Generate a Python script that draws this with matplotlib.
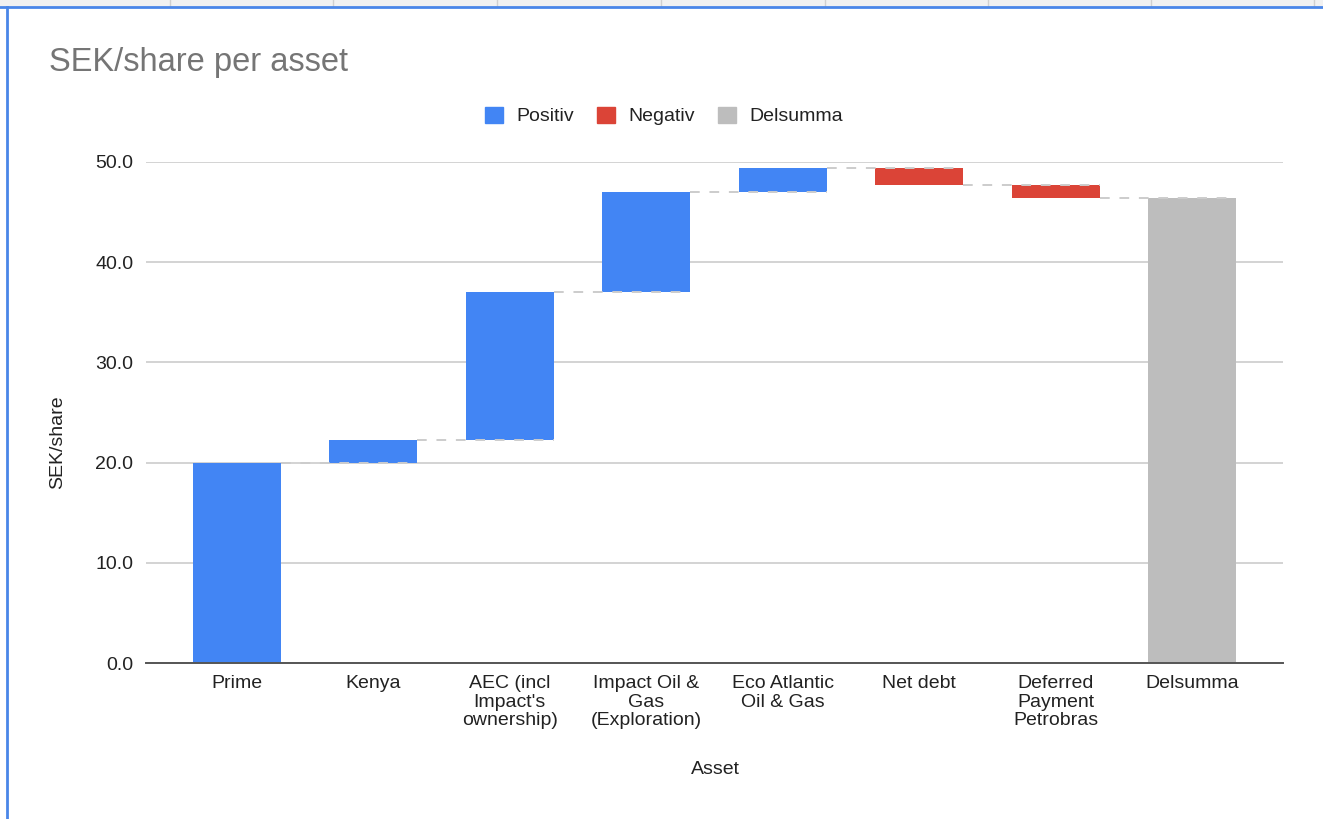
import matplotlib.pyplot as plt
from matplotlib.patches import Patch
from matplotlib.lines import Line2D

plt.rcParams['font.family'] = ['Liberation Sans', 'DejaVu Sans']

assets = ["Prime", "Kenya", "AEC (incl\nImpact's\nownership)", "Impact Oil &\nGas\n(Exploration)",
          "Eco Atlantic\nOil & Gas", "Net debt", "Deferred\nPayment\nPetrobras", "Delsumma"]
changes = [20.0, 2.3, 14.7, 10.0, 2.45, -1.75, -1.25]
subtotal = 46.45
legend_names = ["Positiv", "Negativ", "Delsumma"]

BLUE = "#4285f4"
RED = "#db4437"
GREY = "#bdbdbd"

fig = plt.figure(figsize=(13.23, 8.19), dpi=100)
ax = fig.add_axes([146 / 1323, 1 - 663 / 819, (1283 - 146) / 1323, (663 - 162) / 819])

w = 0.645
level = 0
tops = []
for i, c in enumerate(changes):
    start = level
    level = level + c
    col = BLUE if c >= 0 else RED
    ax.bar(i, level - start, bottom=start, width=w, color=col, zorder=2)
    tops.append(level)
ax.bar(len(changes), subtotal, width=w, color=GREY, zorder=2)

# dashed connectors between bars
for i, lv in enumerate(tops):
    ax.plot([i + w / 2, i + 1 + w / 2], [lv, lv], color="#cccccc", lw=1.4,
            ls=(0, (5, 5)), zorder=3)

ax.set_xlim(-0.667, len(assets) - 1 + 0.667)
ax.set_ylim(0, 50)
ax.set_yticks([0, 10, 20, 30, 40, 50])
ax.set_yticklabels([f"{v:.1f}" for v in [0, 10, 20, 30, 40, 50]])
ax.set_xticks(range(len(assets)))
ax.set_xticklabels(assets, linespacing=1.08, va="top")
ax.tick_params(axis="both", length=0, labelsize=14, colors="#222222")
ax.tick_params(axis="y", pad=9)
ax.tick_params(axis="x", pad=9)
ax.grid(axis="y", color="#cccccc", lw=1.2, zorder=0)
ax.set_axisbelow(True)
for s in ["top", "right", "left"]:
    ax.spines[s].set_visible(False)
ax.spines["bottom"].set_color("#555555")
ax.spines["bottom"].set_linewidth(1.4)
ax.spines["bottom"].set_zorder(4)

fig.text(715 / 1323, 1 - 770 / 819, "Asset", ha="center", va="center", fontsize=14, color="#222222")
fig.text(58 / 1323, 1 - 442 / 819, "SEK/share", ha="center", va="center", rotation=90,
         fontsize=14, color="#222222")
fig.text(49 / 1323, 1 - 63 / 819, "SEK/share per asset", ha="left", va="center",
         fontsize=23.5, color="#757575")

handles = [Patch(color=BLUE), Patch(color=RED), Patch(color=GREY)]
fig.legend(handles, legend_names, loc="center", bbox_to_anchor=(664 / 1323, 1 - 116 / 819),
           ncol=3, frameon=False, fontsize=14, handlelength=0.9, handleheight=0.9,
           handletextpad=0.7, columnspacing=1.2, labelcolor="#222222")

# spreadsheet frame around the chart
fig.patches.append(plt.Rectangle((0, 1 - 6 / 819), 1, 6 / 819, transform=fig.transFigure,
                                 color="#f1f1f1", zorder=0))
for gx in [170, 333, 497, 661, 825, 988, 1151, 1314]:
    fig.lines.append(Line2D([gx / 1323, gx / 1323], [1 - 6 / 819, 1], transform=fig.transFigure,
                            color="#d0d0d0", lw=1))
fig.lines.append(Line2D([0, 1], [1 - 7 / 819, 1 - 7 / 819], transform=fig.transFigure,
                        color="#4a86e8", lw=2))
fig.lines.append(Line2D([7 / 1323, 7 / 1323], [0, 1 - 7 / 819], transform=fig.transFigure,
                        color="#4a86e8", lw=2))

fig.savefig("out.png", dpi=100)
